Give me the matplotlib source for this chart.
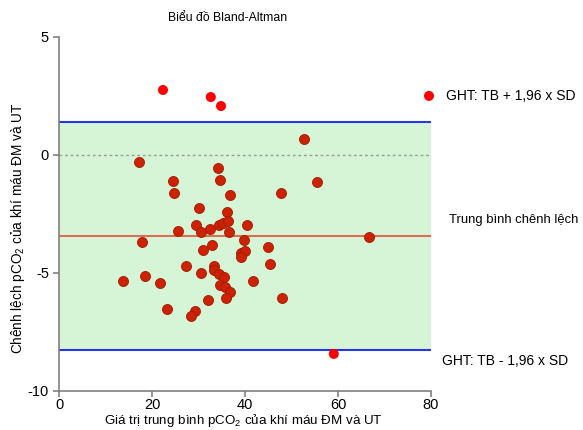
# Bland-Altman plot: pCO2 khí máu ĐM và UT

import matplotlib
matplotlib.use("Agg")
import matplotlib.pyplot as plt

plt.rcParams["font.family"] = ["Liberation Sans", "DejaVu Sans"]
plt.rcParams["mathtext.fontset"] = "custom"
plt.rcParams["mathtext.rm"] = "Liberation Sans"
plt.rcParams["axes.unicode_minus"] = False

# points inside the limits of agreement
mean_values = [17.1, 24.5, 34.2, 34.5, 52.6, 55.4, 24.7, 36.8, 30.0, 36.1,
               29.4, 34.4, 35.3, 36.3, 40.3, 25.5, 30.5, 32.5, 36.6, 17.8,
               39.7, 32.8, 31.0, 39.0, 39.9, 39.1, 27.3, 33.3, 47.7, 66.6,
               44.9, 45.3, 13.7, 18.5, 21.6, 30.4, 33.3, 34.4, 35.5, 34.6,
               35.7, 36.8, 32.0, 35.9, 23.1, 29.2, 28.3, 41.6, 47.9]
diff_values = [-0.32, -1.13, -0.58, -1.07, 0.67, -1.16, -1.62, -1.69, -2.26, -2.44,
               -2.99, -2.99, -2.91, -2.82, -2.97, -3.23, -3.28, -3.13, -3.28, -3.71,
               -3.60, -3.81, -4.05, -4.15, -4.07, -4.33, -4.70, -4.70, -1.64, -3.50,
               -3.90, -4.63, -5.34, -5.15, -5.45, -5.00, -4.89, -5.06, -5.17, -5.52,
               -5.59, -5.82, -6.17, -6.07, -6.54, -6.61, -6.83, -5.35, -6.07]

# points outside the limits
out_mean = [22.3, 32.6, 34.8, 79.6, 59.1]
out_diff = [2.74, 2.44, 2.06, 2.49, -8.44]

MEAN_DIFF = -3.44
UPPER_LOA = 1.40
LOWER_LOA = -8.29

X_TICKS = [0, 20, 40, 60, 80]
Y_TICKS = [-10, -5, 0, 5]

fig = plt.figure(figsize=(5.83, 4.30), dpi=100)
ax = fig.add_axes([0.102, 0.0914, 0.637, 0.8234])

ax.fill_between([0, 80], LOWER_LOA, UPPER_LOA, color="#d6f5d6", zorder=0, lw=0)
ax.plot([0, 80], [0, 0], color="#999999", ls=(0, (2, 2)), lw=1, zorder=1)
ax.plot([0, 80], [UPPER_LOA, UPPER_LOA], color="#2535f0", lw=1.5, zorder=2)
ax.plot([0, 80], [LOWER_LOA, LOWER_LOA], color="#2535f0", lw=1.5, zorder=2)
ax.plot([0, 80], [MEAN_DIFF, MEAN_DIFF], color="#e06a55", lw=1.5, zorder=2)

ax.scatter(mean_values, diff_values, s=52, color="#cc2200", edgecolors="#a01a05",
           linewidths=0.6, zorder=3)
ax.scatter(out_mean, out_diff, s=52, color="#ff0000", edgecolors="none",
           zorder=3, clip_on=False)

ax.set_xlim(0, 80)
ax.set_ylim(-10, 5)
ax.set_xticks(X_TICKS)
ax.set_yticks(Y_TICKS)
for side in ["top", "right"]:
    ax.spines[side].set_visible(False)
for side in ["left", "bottom"]:
    ax.spines[side].set_color("#808080")
    ax.spines[side].set_linewidth(1.2)
ax.tick_params(colors="#808080", labelcolor="black", labelsize=10.5, length=4, width=1.2)
ax.tick_params(axis="x", pad=1.5)

ax.text(83.2, 2.49, "GHT: TB + 1,96 x SD", fontsize=10, va="center", clip_on=False)
ax.text(83.9, -2.77, "Trung bình chênh lệch", fontsize=9.4, va="center", clip_on=False)
ax.text(82.4, -8.74, "GHT: TB - 1,96 x SD", fontsize=10, va="center", clip_on=False)

fig.text(228 / 583, 1 - 18 / 430, "Biểu đồ Bland-Altman", fontsize=8.8, ha="center", va="center")
fig.text(243 / 583, 1 - 429 / 430, r"Giá trị trung bình pCO$_\mathregular{2}$ của khí máu ĐM và UT",
         fontsize=9.6, ha="center", va="bottom")
fig.text(18 / 583, 1 - 228 / 430, r"Chênh lệch pCO$_\mathregular{2}$ của khí máu ĐM và UT",
         fontsize=9.8, ha="center", va="center", rotation=90)

fig.savefig("out.png", dpi=100)
